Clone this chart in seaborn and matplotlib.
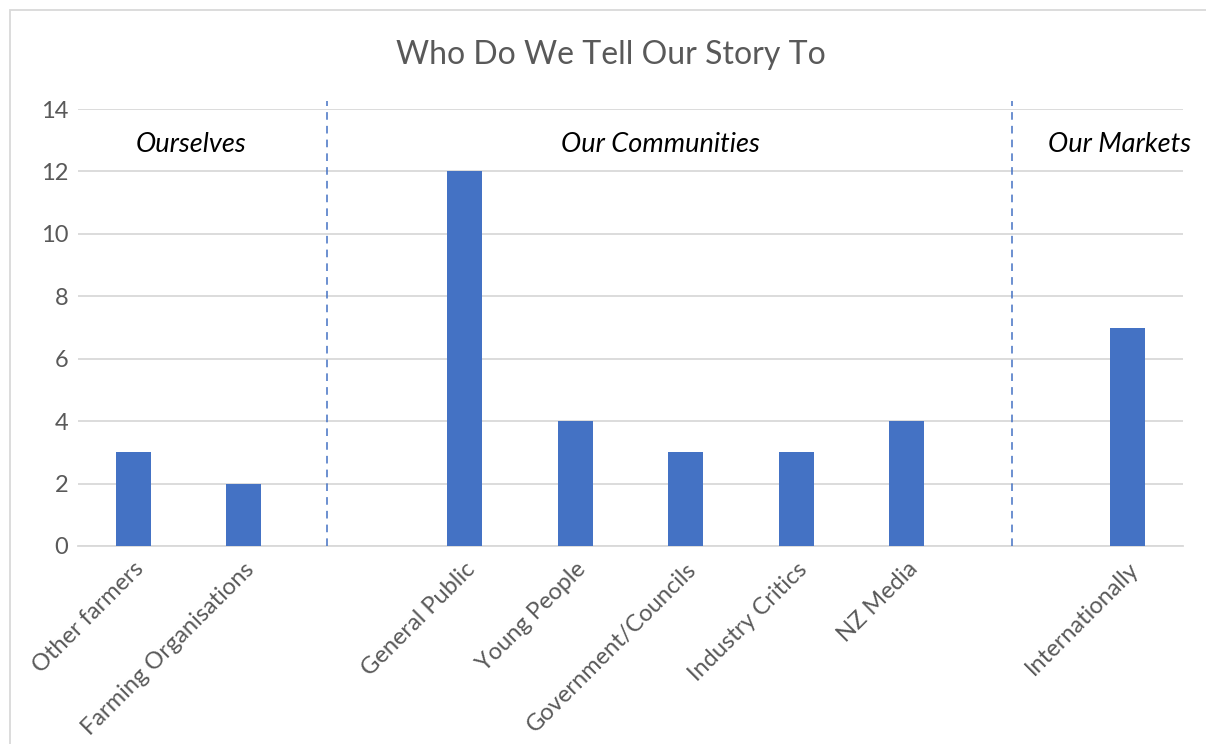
import matplotlib
matplotlib.use("Agg")
import matplotlib.pyplot as plt
import seaborn as sns
import pandas as pd
from matplotlib.patches import Rectangle

categories = ["Other farmers", "Farming Organisations", " ", "General Public", "Young People",
              "Government/Councils", "Industry Critics", "NZ Media", "  ", "Internationally"]
values = [3, 2, 0, 12, 4, 3, 3, 4, 0, 7]
groups = ["Ourselves", "Our Communities", "Our Markets"]
group_x = [0.52, 4.77, 8.93]
divider_x = [1.75, 7.95]
yticks = [0, 2, 4, 6, 8, 10, 12, 14]

sns.set_theme(style="white")
plt.rcParams['font.family'] = ['Lato', 'DejaVu Sans']

df = pd.DataFrame({"cat": categories, "val": values})

fig = plt.figure(figsize=(12.06, 7.44), dpi=100)
ax = fig.add_axes([78/1206, 1-546/744, (1183-78)/1206, (546-109)/744])

sns.barplot(data=df, x="cat", y="val", order=categories, color="#4472C4",
            width=0.32, linewidth=0, saturation=1, ax=ax, zorder=3)

ax.set_xlim(-0.5, 9.5)
ax.set_ylim(0, 14)
ax.set_yticks(yticks)
ax.yaxis.grid(True, color="#D9D9D9", linewidth=1.3, zorder=0)
ax.set_axisbelow(True)
for s in ["top", "right", "left"]:
    ax.spines[s].set_visible(False)
ax.spines["bottom"].set_color("#D9D9D9")
ax.spines["bottom"].set_linewidth(1.3)
ax.tick_params(axis="both", length=0, colors="#595959", labelsize=17)
ax.tick_params(axis="y", pad=7)
ax.tick_params(axis="x", pad=9)
ax.set_xlabel("")
ax.set_ylabel("")
ax.set_xticks(range(len(categories)))
ax.set_xticklabels(categories, rotation=45, ha="right", rotation_mode="anchor")

for dx in divider_x:
    ax.plot([dx, dx], [0, 14.26], linestyle=(0, (5, 4)), color="#4472C4",
            linewidth=1.1, clip_on=False, zorder=4)

for g, gx in zip(groups, group_x):
    ax.text(gx, 12.87, g, ha="center", va="center", style="italic",
            fontsize=19.5, color="black")

fig.text(611/1206, 1-55/744, "Who Do We Tell Our Story To", ha="center", va="center",
         fontsize=23, color="#595959")

fig.patches.append(Rectangle((10/1206, -0.1), 1.2, 1-10/744+0.1, transform=fig.transFigure,
                             fill=False, edgecolor="#D9D9D9", linewidth=1.3))

fig.savefig("out.png", dpi=100)
